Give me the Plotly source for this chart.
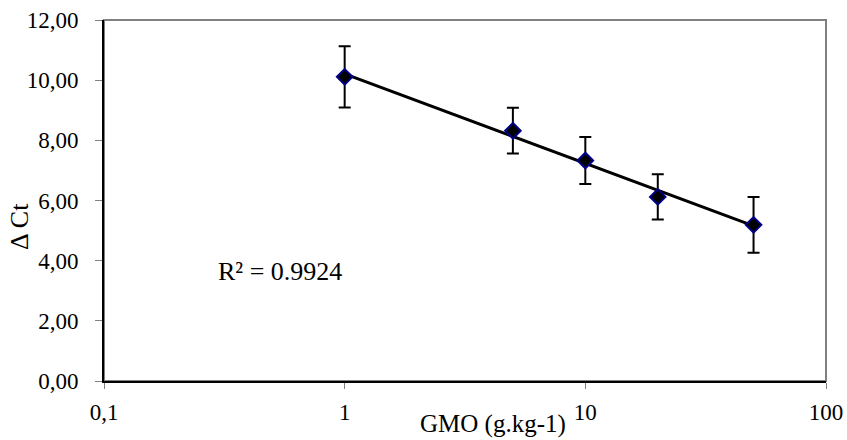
import numpy as np
import plotly.graph_objects as go

# Data
gmo = [1, 5, 10, 20, 50]
delta_ct = [10.11, 8.32, 7.33, 6.12, 5.19]
err = [1.02, 0.76, 0.78, 0.75, 0.93]
x_ticks = [0.1, 1, 10, 100]
x_tick_labels = ["0,1", "1", "10", "100"]
y_ticks = [0, 2, 4, 6, 8, 10, 12]
r2_text = "R² = 0.9924"
x_title = "GMO (g.kg-1)"
y_title = "Δ Ct"

# Logarithmic trendline fit
coef = np.polyfit(np.log(gmo), delta_ct, 1)
fit_x = np.array([min(gmo), max(gmo)])
fit_y = coef[0] * np.log(fit_x) + coef[1]

FONT = "Liberation Serif, Times New Roman, serif"
TICKFONT = dict(family=FONT, size=23, color="black")

fig = go.Figure()
fig.add_trace(go.Scatter(
    x=fit_x, y=fit_y, mode="lines",
    line=dict(color="black", width=3),
    showlegend=False, hoverinfo="skip",
))
fig.add_trace(go.Scatter(
    x=gmo, y=delta_ct, mode="markers",
    marker=dict(symbol="diamond", size=12, color="black",
                line=dict(color="#00008B", width=2)),
    error_y=dict(type="data", array=err, visible=True,
                 color="black", thickness=2, width=6),
    showlegend=False,
))

fig.add_shape(type="rect", xref="paper", yref="paper", x0=0, x1=1, y0=0, y1=1,
              line=dict(color="#808080", width=2), layer="below")

fig.add_annotation(x=np.log10(0.54), y=3.65, xref="x", yref="y", text=r2_text,
                   showarrow=False, xanchor="center", yanchor="middle",
                   font=dict(family=FONT, size=26, color="black"))
fig.add_annotation(x=(493 - 104) / 722, y=-(424 - 381) / 361, xref="paper", yref="paper",
                   text=x_title, showarrow=False, xanchor="center", yanchor="middle",
                   font=dict(family=FONT, size=25, color="black"))
fig.add_annotation(x=(19 - 104) / 722, y=(381 - 227) / 361, xref="paper", yref="paper",
                   text=y_title, showarrow=False, textangle=-90,
                   xanchor="center", yanchor="middle",
                   font=dict(family=FONT, size=26, color="black"))

fig.update_layout(
    width=847, height=440,
    autosize=False,
    margin=dict(l=104, r=21, t=20, b=59, pad=0),
    paper_bgcolor="white", plot_bgcolor="white",
    separators=",.",
    font=dict(family=FONT, size=23, color="black"),
    xaxis=dict(type="log", range=[-1, 2], tickvals=x_ticks, ticktext=x_tick_labels,
               tickfont=TICKFONT, automargin=False,
               showgrid=False, zeroline=False, showline=True, linecolor="black",
               linewidth=2, ticks="outside", ticklen=6, tickcolor="#808080",
               ticklabelstandoff=3),
    yaxis=dict(range=[0, 12], tickvals=y_ticks, tickformat=".2f",
               tickfont=TICKFONT, automargin=False,
               showgrid=False, zeroline=False, showline=True, linecolor="black",
               linewidth=2, ticks="outside", ticklen=7, tickcolor="#808080",
               ticklabelstandoff=12),
)

fig.write_html("out.html",
               config={"displayModeBar": False},
               post_script="document.body.style.margin='0';document.body.style.overflow='hidden';")
